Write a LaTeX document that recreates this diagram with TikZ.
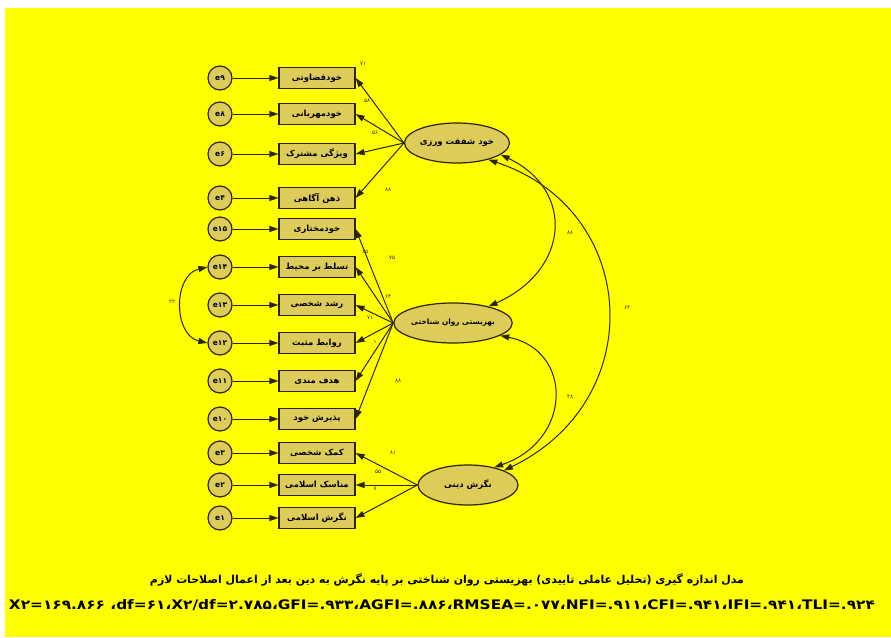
\documentclass[tikz,border=0pt]{standalone}
\usepackage{graphicx}
\usepackage{fontspec}
\usetikzlibrary{shapes.geometric,arrows.meta}
\TeXXeTstate=1
\newfontfamily\fa[Script=Arabic]{DejaVu Sans}
\newfontfamily\dv{DejaVu Sans}
\definecolor{bgy}{RGB}{255,255,0}
\definecolor{nodefill}{RGB}{222,204,90}
\definecolor{edge}{RGB}{45,36,0}
\tikzset{
 box/.style={draw=edge, fill=nodefill, line width=1.2pt, minimum width=76pt, minimum height=21pt, inner sep=0pt, font=\fa\bfseries\fontsize{8.5}{8.5}\selectfont},
 errc/.style={circle, draw=edge, fill=nodefill, line width=1.2pt, minimum size=24pt, inner sep=0pt, font=\dv\bfseries\fontsize{7.5}{7.5}\selectfont},
 latent/.style={ellipse, draw=edge, fill=nodefill, line width=1.2pt, minimum width=100pt, minimum height=40pt, inner sep=0pt, font=\fa\bfseries\fontsize{8.5}{8.5}\selectfont},
 lbl/.style={font=\dv\fontsize{5.5}{5.5}\selectfont, text=edge, inner sep=0pt},
 arr/.style={draw=edge, line width=1pt, -{Triangle[length=9pt,width=6pt]}},
 cov/.style={draw=edge, line width=1pt, {Triangle[length=9pt,width=6pt]}-{Triangle[length=9pt,width=6pt]}},
}
\begin{document}
\begin{tikzpicture}[x=1pt,y=-1pt]
\useasboundingbox (0,0) rectangle (891,637);
\fill[white] (0,0) rectangle (891,637);
\fill[bgy] (5,8) rectangle (891,637);
% indicators
\node[box] (r1) at (317,78) {\beginR خودقضاوتی\endR};
\node[box] (r2) at (317,114) {\beginR خودمهربانی\endR};
\node[box] (r3) at (317,154) {\beginR ویژگی مشترک\endR};
\node[box] (r4) at (317,198) {\beginR ذهن آگاهی\endR};
\node[box] (r5) at (317,229) {\beginR خودمختاری\endR};
\node[box] (r6) at (317,267) {\beginR تسلط بر محیط\endR};
\node[box] (r7) at (317,305) {\beginR رشد شخصی\endR};
\node[box] (r8) at (317,343) {\beginR روابط مثبت\endR};
\node[box] (r9) at (317,381) {\beginR هدف مندی\endR};
\node[box] (r10) at (317,419) {\beginR پذیرش خود\endR};
\node[box] (r11) at (317,453) {\beginR کمک شخصی\endR};
\node[box] (r12) at (317,485) {\beginR مناسک اسلامی\endR};
\node[box] (r13) at (317,518) {\beginR نگرش اسلامی\endR};
% errors
\node[errc] (e1) at (220,78) {e۹};
\node[errc] (e2) at (220,114) {e۸};
\node[errc] (e3) at (220,154) {e۶};
\node[errc] (e4) at (220,198) {e۴};
\node[errc] (e5) at (220,229) {e۱۵};
\node[errc] (e6) at (220,267) {e۱۴};
\node[errc] (e7) at (220,305) {e۱۳};
\node[errc] (e8) at (220,343) {e۱۲};
\node[errc] (e9) at (220,381) {e۱۱};
\node[errc] (e10) at (220,419) {e۱۰};
\node[errc] (e11) at (220,453) {e۳};
\node[errc] (e12) at (220,485) {e۲};
\node[errc] (e13) at (220,518) {e۱};
\foreach \i in {1,...,13} {\draw[arr] (e\i) -- (r\i);}
% latents
\node[latent] (L1) at (457,143) {\beginR خود شفقت ورزی\endR};
\node[latent, font=\fa\bfseries\fontsize{7.3}{7.3}\selectfont] (L2) at (453,323) {\beginR بهزیستی روان شناختی\endR};
\node[latent] (L3) at (468,485) {\beginR نگرش دینی\endR};
\foreach \i in {1,...,4} {\draw[arr] (L1.west) -- (r\i.east);}
\foreach \i in {5,...,10} {\draw[arr] (L2.west) -- (r\i.east);}
\foreach \i in {11,...,13} {\draw[arr] (L3.west) -- (r\i.east);}
% covariances
\draw[cov] (L1.-15) .. controls (575,190) and (570,270) .. (L2.25);
\draw[cov] (L1.-28) .. controls (640,210) and (650,400) .. (L3.22);
\draw[cov] (L2.-15) .. controls (573,350) and (573,440) .. (L3.34);
\draw[cov] (e6.west) .. controls (173,275) and (173,335) .. (e8.west);
% labels
\node[lbl] (l1) at (363,64) {۷۱};
\node[lbl] (l2) at (367,101) {۵۸};
\node[lbl] (l3) at (375,133) {۵۶};
\node[lbl] (l4) at (388,190) {۸۸};
\node[lbl] (l5) at (365,252) {۶۵};
\node[lbl] (l6) at (392,258) {۷۵};
\node[lbl] (l7) at (388,297) {۶۴};
\node[lbl] (l8) at (370,318) {۷۱};
\node[lbl] (l9) at (375,342) {۱};
\node[lbl] (l10) at (398,381) {۸۸};
\node[lbl] (l11) at (393,453) {۸۱};
\node[lbl] (l12) at (378,472) {۵۵};
\node[lbl] (l13) at (375,489) {۷};
\node[lbl] (c1) at (570,233) {۸۸};
\node[lbl] (c2) at (627,308) {۶۴};
\node[lbl] (c3) at (570,397) {۴۸};
\node[lbl] (c4) at (172,302) {۲۲};
% captions
\node[inner sep=0pt] (cap1) at (447,580) {\resizebox{594pt}{!}{\fa\bfseries\beginR مدل اندازه گیری (تحلیل عاملی تاییدی) بهزیستی روان شناختی بر پایه نگرش به دین بعد از اعمال اصلاحات لازم\endR}};
\node[inner sep=0pt] (cap2) at (442,605) {\resizebox{866pt}{10pt}{\dv\bfseries X۲=۱۶۹.۸۶۶ ،df=۶۱،X۲/df=۲.۷۸۵،GFI=.۹۳۳،AGFI=.۸۸۶،RMSEA=.۰۷۷،NFI=.۹۱۱،CFI=.۹۴۱،IFI=.۹۴۱،TLI=.۹۲۴}};
\end{tikzpicture}
\end{document}
